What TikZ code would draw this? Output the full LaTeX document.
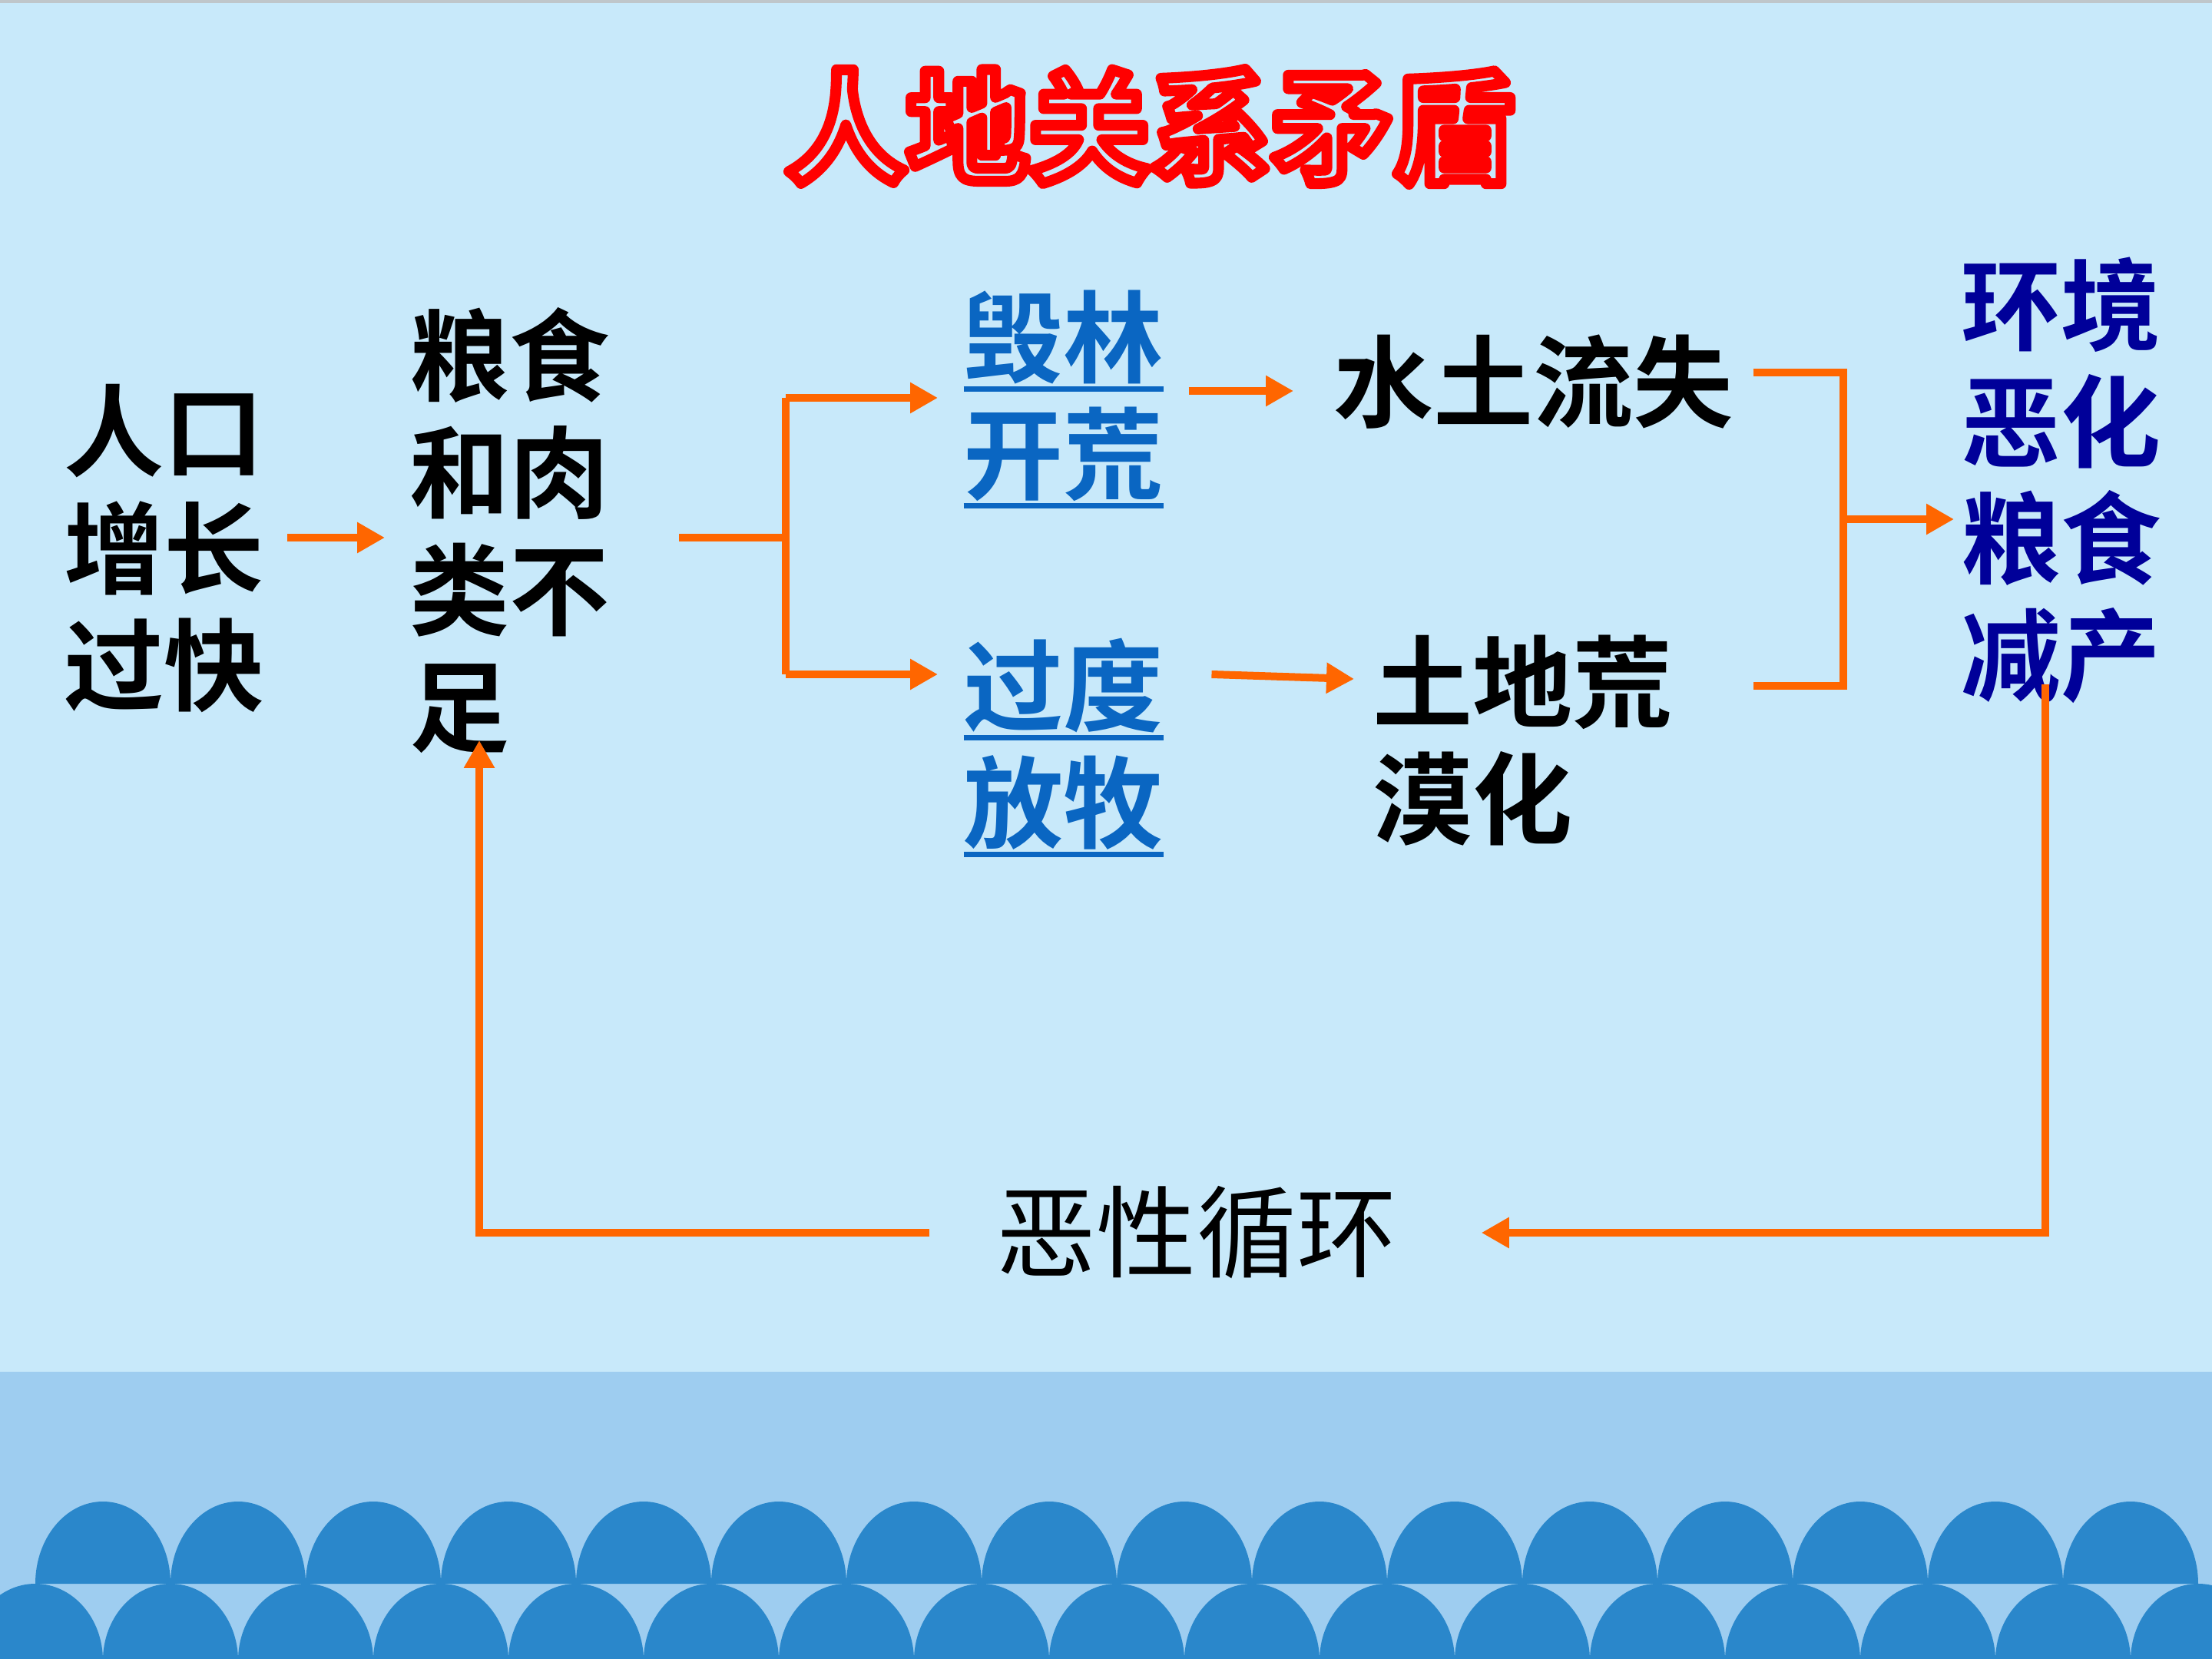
\documentclass[tikz,border=0pt]{standalone}
\usepackage{fontspec}
\usetikzlibrary{arrows.meta,calc}
\newfontfamily\heibold{Noto Sans CJK SC Bold}
\newfontfamily\hei{Noto Sans CJK SC}
\definecolor{skybg}{HTML}{C8E9FA}
\definecolor{bandblue}{HTML}{9ECDF0}
\definecolor{waveblue}{HTML}{2A87CB}
\definecolor{topgray}{HTML}{BFC6CA}
\definecolor{arroworange}{HTML}{FF6600}
\definecolor{linkblue}{HTML}{0A66C2}
\definecolor{navy}{HTML}{000099}
\newcommand{\ulchars}[1]{\leavevmode\setbox0\hbox{#1}\rlap{\copy0}\rule[-0.165em]{\wd0}{0.05em}}
\newcommand{\hollow}[1]{\special{pdf:literal direct 2 Tr 4 w 1 0 0 RG 1 j}#1\special{pdf:literal direct 0 Tr}}
\tikzset{
	flow/.style={draw=arroworange, line width=0.1cm, -{Triangle[length=0.36cm,width=0.38cm]}},
	link/.style={draw=arroworange, line width=0.1cm},
	word/.style={inner sep=0pt, align=left, anchor=north west, font=\heibold\fontsize{37}{43.3}\selectfont},
	titleword/.style={inner sep=0pt, font=\heibold\fontsize{45}{50}\selectfont}
}
\begin{document}
\begin{tikzpicture}[x=1cm, y=-1cm]
			\useasboundingbox (0,0) rectangle (28.8,21.6);
			\clip (0,0) rectangle (28.8,21.6);
			%background
			\fill[skybg] (0,0) rectangle (28.8,17.86);
			\fill[topgray] (0,0) rectangle (28.8,0.04);
			\fill[bandblue] (0,17.86) rectangle (28.8,21.6);
			%waves
			\foreach \i in {0,...,15}
			\fill[waveblue] (0.46+1.76*\i,20.62) arc[start angle=180, end angle=0, x radius=0.88cm, y radius=1.07cm] -- cycle;
			\foreach \i in {0,...,16}
			\fill[waveblue] (-0.42+1.76*\i,21.62) arc[start angle=180, end angle=0, x radius=0.88cm, y radius=1cm] -- cycle;
			%title
			\node[titleword, text=skybg] (title) at (14.97,1.65) {\hollow{人地关系矛盾}};
			%words
			\node[word] (pop) at (0.83,5.00) {人口\\增长\\过快};
			\node[word] (food) at (5.33,4.00) {粮食\\和肉\\类不\\足};
			\node[word, text=linkblue] (forest) at (12.54,3.77) {\ulchars{毁林}\\\ulchars{开荒}};
			\node[word, text=linkblue] (graze) at (12.54,8.30) {\ulchars{过度}\\\ulchars{放牧}};
			\node[word] (soil) at (17.36,4.35) {水土流失};
			\node[word] (desert) at (17.87,8.26) {土地荒\\漠化};
			\node[word, text=navy] (result) at (25.53,3.34) {环境\\恶化\\粮食\\减产};
			\node[word, anchor=center, font=\hei\fontsize{37}{43.3}\selectfont] (cycle) at (15.58,16.05) {恶性循环};
			%points
			\coordinate (up) at (10.23,5.18);
			\coordinate (down) at (10.23,8.78);
			\coordinate (jtop) at (24.00,4.85);
			\coordinate (jbot) at (24.00,8.93);
			\coordinate (join) at (24.00,6.76);
			\coordinate (rdown) at (26.63,8.91);
			\coordinate (fdown) at (6.24,9.64);
			%arrows
			\draw[flow] ([xshift=0.3cm]pop.east |- 0,7.00) -- ([xshift=-0.32cm]food.west |- 0,7.00);
			\draw[link] ([xshift=0.9cm]food.east |- 0,7.00) -- (up |- 0,7.00);
			\draw[link] (up) -- (down);
			\draw[flow] (up) -- ([xshift=-0.33cm]forest.west |- up);
			\draw[flow] (down) -- ([xshift=-0.33cm]graze.west |- down);
			\draw[flow] ([xshift=0.32cm]forest.east |- 0,5.09) -- ([xshift=-0.52cm]soil.west |- 0,5.09);
			\draw[flow] ([xshift=0.62cm]graze.east |- down) -- ([xshift=-0.24cm,yshift=-0.06cm]desert.west |- down);
			\draw[link] ([xshift=0.25cm]soil.east |- jtop) -- (jtop) -- (jbot) -- ([xshift=1.04cm]desert.east |- jbot);
			\draw[flow] (join) -- ([xshift=-0.09cm]result.west |- join);
			\draw[flow] (rdown) |- ([xshift=1.1cm]cycle.east);
			\draw[flow] ([xshift=-0.87cm]cycle.west) -| (fdown);
\end{tikzpicture}
\end{document}
